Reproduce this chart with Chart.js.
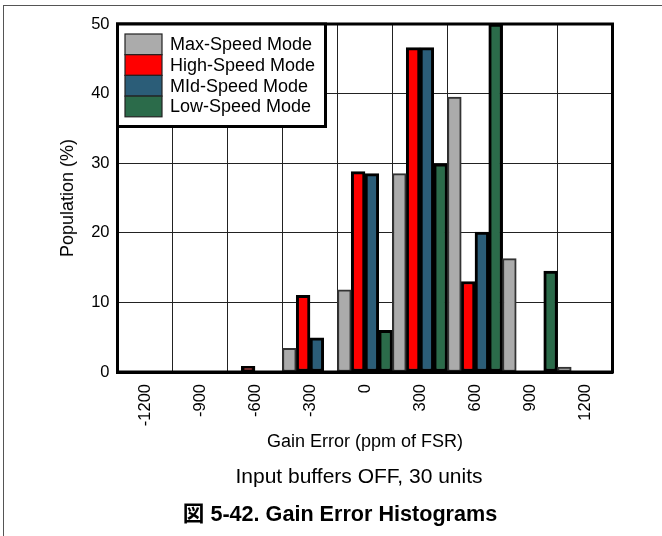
<!DOCTYPE html>
<html>
<head>
<meta charset="utf-8">
<script src="https://cdn.jsdelivr.net/npm/chart.js@4/dist/chart.umd.min.js"></script>
<style>
  html, body { margin: 0; padding: 0; background: #fff; }
  #wrap { position: relative; width: 662px; height: 536px; overflow: hidden; font-family: "Liberation Sans", Arial, sans-serif; color: #000; }
  #c { position: absolute; left: 0; top: 0; }
  .frameTop { position: absolute; left: 3px; top: 5px; width: 659px; height: 0; border-top: 1px solid #555; }
  .frameLeft { position: absolute; left: 3px; top: 5px; width: 0; height: 531px; border-left: 1px solid #555; }
  .txt { position: absolute; white-space: nowrap; transform: translate(-50%, -50%); line-height: 1; }
  #ytitle { left: 67px; top: 198px; font-size: 18px; transform: translate(-50%, -50%) rotate(-90deg); }
  #xtitle { left: 365px; top: 441px; font-size: 18px; }
  #sub { left: 359px; top: 475px; font-size: 21px; }
  #cap { left: 340px; top: 514px; font-size: 21.6px; font-weight: bold; font-family: "Liberation Sans", Arial, "Noto Sans CJK JP", sans-serif; }
</style>
</head>
<body>
<div id="wrap">
  <canvas id="c" width="662" height="536"></canvas>
  <div class="frameTop"></div>
  <div class="frameLeft"></div>
  <div class="txt" id="ytitle">Population (%)</div>
  <div class="txt" id="xtitle">Gain Error (ppm of FSR)</div>
  <div class="txt" id="sub">Input buffers OFF, 30 units</div>
  <div class="txt" id="cap">図 5-42. Gain Error Histograms</div>
</div>
<script>
// ---- data ----
const categories = ['-1200', '-900', '-600', '-300', '0', '300', '600', '900', '1200'];
const seriesNames = ['Max-Speed Mode', 'High-Speed Mode', 'MId-Speed Mode', 'Low-Speed Mode'];
const maxSpeed  = [0, 0, 0,   3.4, 11.8, 28.5, 39.5, 16.3, 0.7];
const highSpeed = [0, 0, 0.8, 11.0, 28.8, 46.6, 13.0, 0,   0];
const midSpeed  = [0, 0, 0,   4.9, 28.5, 46.6, 20.1, 0,   0];
const lowSpeed  = [0, 0, 0,   0,   6.0, 29.9, 50.0, 14.5, 0];
const yMin = 0, yMax = 50, yStep = 10;

const fills   = ['#ABABAB', '#FF0000', '#2B5D78', '#2B6B4A'];
const borders = ['#333333', '#000000', '#000000', '#000000'];
const bw      = [2, 3, 3, 3];
const seriesValues = [maxSpeed, highSpeed, midSpeed, lowSpeed];

const datasets = seriesValues.map((vals, i) => ({
  label: seriesNames[i],
  data: vals,
  backgroundColor: fills[i],
  borderColor: borders[i],
  borderWidth: bw[i],
  borderSkipped: false,
  categoryPercentage: 1.0,
  barPercentage: 1.0
}));

const framePlugin = {
  id: 'frameLegend',
  afterDatasetsDraw(chart) {
    const ctx = chart.ctx, a = chart.chartArea;
    ctx.save();
    ctx.strokeStyle = '#000';
    ctx.lineWidth = 3;
    ctx.strokeRect(a.left, a.top, a.right - a.left, a.bottom - a.top);
    // legend box
    const lx = a.left, ly = a.top, lw = 208, lh = 102.5;
    ctx.fillStyle = '#fff';
    ctx.fillRect(lx, ly, lw, lh);
    ctx.strokeRect(lx, ly, lw, lh);
    const sx = 125, sy = 34, sw = 37, sh = 20.7;
    ctx.font = '18px "Liberation Sans", Arial, sans-serif';
    ctx.textBaseline = 'middle';
    ctx.textAlign = 'left';
    chart.data.datasets.forEach((ds, i) => {
      const y = sy + i * sh;
      ctx.fillStyle = ds.backgroundColor;
      ctx.fillRect(sx, y, sw, sh);
      ctx.lineWidth = 1.2;
      ctx.strokeStyle = '#222';
      ctx.strokeRect(sx, y, sw, sh);
      ctx.fillStyle = '#000';
      ctx.fillText(ds.label, 170, y + sh / 2 + 1);
    });
    ctx.restore();
  }
};

new Chart(document.getElementById('c'), {
  type: 'bar',
  data: { labels: categories, datasets },
  options: {
    responsive: false,
    animation: false,
    devicePixelRatio: 1,
    layout: { padding: { left: 0, right: 49.5, top: 24, bottom: 0 } },
    plugins: { legend: { display: false }, tooltip: { enabled: false } },
    scales: {
      x: {
        offset: true,
        grid: { display: true, offset: true, color: '#222', lineWidth: 1, drawTicks: false },
        border: { display: true, color: '#000', width: 3 },
        ticks: {
          color: '#000', minRotation: 90, maxRotation: 90, padding: 12, autoSkip: false,
          font: { family: '"Liberation Sans", Arial, sans-serif', size: 16.5 }
        },
        afterFit(scale) { scale.height = 164; }
      },
      y: {
        min: yMin, max: yMax,
        grid: { color: '#222', lineWidth: 1, drawTicks: false },
        border: { display: true, color: '#000', width: 3 },
        ticks: {
          stepSize: yStep, color: '#000', padding: 8,
          font: { family: '"Liberation Sans", Arial, sans-serif', size: 16.5 }
        },
        afterFit(scale) { scale.width = 117.5; }
      }
    }
  },
  plugins: [framePlugin]
});
</script>
</body>
</html>
